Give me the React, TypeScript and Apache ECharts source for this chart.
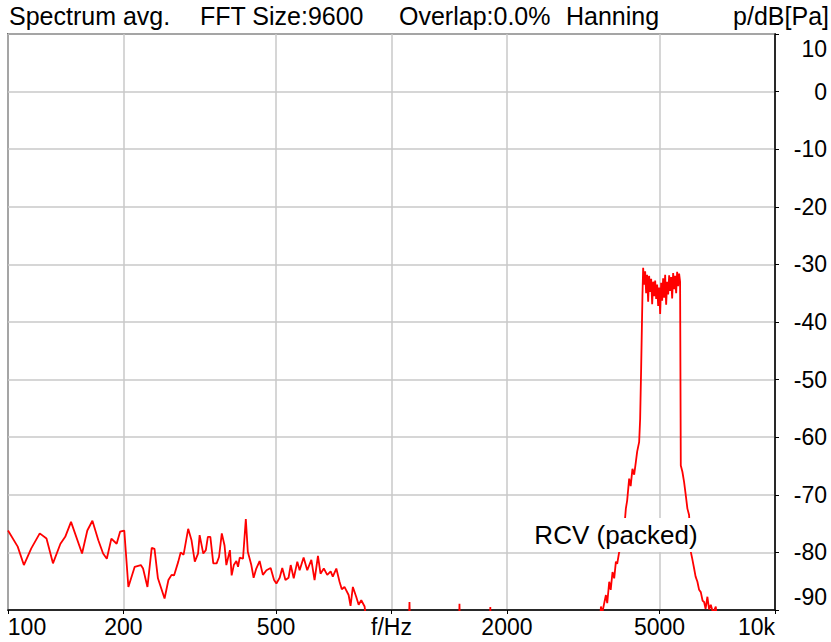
import React, { useEffect, useRef } from "react";
import * as echarts from "echarts";

// ---- data ----
const lowFreqHz = [
  100, 106, 110, 115, 121, 126, 131, 137, 141, 146, 156, 161, 166, 172, 177, 181, 186, 192, 196, 201,
  206, 214, 222, 225, 231, 237, 241, 246, 256, 262, 267, 271, 278, 282, 287, 295, 301, 307, 313, 316,
  323, 328, 332, 337, 343, 350, 355, 361, 367, 371, 379, 383, 388, 394, 398, 402, 410, 417, 422,
  431, 437, 444, 453, 462, 472, 484, 494, 501, 511, 519, 529, 539, 546, 556, 568, 576, 590, 603, 618,
  630, 643, 653, 666, 680, 694, 703, 718, 732, 742, 754, 773, 782, 793, 809, 821, 834, 851,
];
const lowLevelDb = [
  -76.2, -79.0, -82.2, -79.3, -76.7, -77.6, -81.9, -78.5, -77.3, -74.7, -80.2, -76.2, -74.5, -77.9, -80.2, -81.1, -77.6, -78.5, -76.4, -76.2,
  -86.0, -82.5, -82.2, -82.8, -86.0, -79.2, -79.4, -84.5, -88.0, -84.8, -83.9, -84.0, -81.6, -80.0, -80.4, -75.9, -77.9, -81.6, -80.2, -77.0,
  -80.2, -79.6, -77.3, -77.3, -81.9, -81.9, -80.8, -76.7, -78.8, -82.2, -79.6, -84.0, -82.2, -81.5, -82.5, -80.9, -81.1, -74.2, -79.9,
  -82.2, -84.4, -82.8, -81.5, -83.9, -83.1, -82.7, -84.8, -85.4, -84.4, -82.7, -84.8, -84.4, -82.2, -84.5, -81.6, -83.1, -80.9, -83.1, -81.3,
  -84.8, -80.6, -83.7, -82.8, -83.9, -83.3, -84.2, -82.8, -85.1, -86.4, -86.0, -87.4, -89.3, -86.0, -87.7, -89.1, -88.3, -89.4,
];

const gapFreqHz = [870, 1000, 1107, 1114, 1121, 1300, 1497, 1504, 1511, 1650, 1803, 1810, 1817, 2500, 3400, 3490];
const gapLevelDb = [-95, -97, -96, -88.6, -96, -97, -96, -88.9, -96, -97, -96, -89.5, -96, -97, -96, -94];

const bandFreqHz = [
  3516, 3544, 3623, 3652, 3696, 3729, 3770, 3808, 3847, 3877, 3924, 4002, 4043, 4084, 4116, 4166, 4204, 4249, 4293, 4337,
  4371, 4424, 4450, 4477, 4512,
  4531, 4558, 4586, 4613, 4642, 4669, 4697, 4725, 4754, 4783, 4812, 4841, 4870, 4899, 4929, 4958, 4988, 5018, 5048, 5079,
  5109, 5140, 5171, 5202, 5234, 5265, 5297, 5329, 5361, 5393, 5425, 5458, 5491, 5524, 5557, 5590, 5623, 5656,
  5680, 5735, 5794, 5853, 5910, 5970, 6006, 6032, 6080, 6153, 6208, 6276, 6340, 6405, 6475, 6533, 6592, 6664, 6732, 6801,
  6895, 7008, 7063, 7300, 8500, 10000,
];
const bandLevelDb = [
  -89.4, -90.5, -87.4, -88.8, -85.1, -86.5, -83.4, -84.5, -81.6, -82.0, -79.9, -79.6, -76.0, -72.4, -71.0, -67.2, -68.5, -65.5, -66.5, -64.3,
  -62.5, -60.8, -56.8, -48.0, -35.4,
  -30.6, -33.5, -31.2, -35.0, -31.8, -36.5, -32.0, -34.8, -32.5, -36.9, -33.0, -35.5, -32.8, -36.0, -33.5, -37.2, -34.0, -38.6, -33.2, -36.3,
  -32.4, -35.8, -31.8, -37.0, -33.0, -35.2, -31.9, -34.6, -32.2, -35.9, -31.5, -34.3, -32.0, -35.0, -31.3, -33.8, -31.6, -33.0,
  -64.9, -66.0, -67.8, -70.1, -72.4, -73.5, -77.0, -79.9, -81.0, -82.8, -84.2, -85.1, -86.5, -86.9, -88.4, -88.6, -89.8, -87.7, -89.9, -89.1,
  -90.5, -89.4, -92.0, -96.0, -97.0, -97.0,
];

const xTickValues = [100, 200, 500, 1000, 2000, 5000, 10000];
const xTickLabels = ["100", "200", "500", "f/Hz", "2000", "5000", "10k"];
const yMin = -90;
const yMax = 10;
const yStep = 10;

const headerParts = ["Spectrum avg.", "FFT Size:9600", "Overlap:0.0%", "Hanning"];
const headerLeft = [9, 200, 399, 566];
const unitLabel = "p/dB[Pa]";
const annotation = "RCV (packed)";

const FONT = "'Liberation Sans', Arial, Helvetica, sans-serif";

export default function App() {
  const ref = useRef<HTMLDivElement>(null);

  useEffect(() => {
    if (!ref.current) return;
    const chart = echarts.init(ref.current, undefined, { renderer: "svg" });

    const freqs = [...lowFreqHz, ...gapFreqHz, ...bandFreqHz];
    const levels = [...lowLevelDb, ...gapLevelDb, ...bandLevelDb];
    const data = freqs.map((f, i) => [f, levels[i]]);

    const titles: any[] = headerParts.map((t, i) => ({
      text: t,
      left: headerLeft[i],
      top: 3,
      padding: 0,
      textStyle: { fontFamily: FONT, fontSize: 25, fontWeight: "normal", color: "#000" },
    }));
    titles.push({
      text: unitLabel,
      right: 2,
      top: 3,
      padding: 0,
      textStyle: { fontFamily: FONT, fontSize: 25, fontWeight: "normal", color: "#000" },
    });

    const labelFont = { fontFamily: FONT, fontSize: 23, color: "#000" };

    chart.setOption({
      animation: false,
      backgroundColor: "#fff",
      title: titles,
      grid: {
        left: 8,
        right: 56,
        top: 34,
        bottom: 32,
        show: true,
        borderColor: "#000",
        borderWidth: 1.5,
        containLabel: false,
      },
      xAxis: {
        type: "log",
        logBase: 10,
        min: 100,
        max: 10000,
        axisLine: { show: true, onZero: false, lineStyle: { color: "#000", width: 1.5 } },
        axisTick: { show: true, length: 4, lineStyle: { color: "#000" }, customValues: xTickValues },
        splitLine: { show: true, lineStyle: { color: "#c8c8c8", width: 1.5 } },
        minorTick: { show: false },
        minorSplitLine: { show: false },
        axisLabel: {
          ...labelFont,
          margin: 5,
          customValues: xTickValues,
          formatter: (v: number) => {
            const i = xTickValues.findIndex((t) => Math.abs(t - v) / t < 1e-6);
            const s = i >= 0 ? xTickLabels[i] : String(v);
            if (i === 0) return "{l|" + s + "}";
            if (i === xTickValues.length - 1) return "{r|" + s + "}";
            return s;
          },
          rich: {
            l: { ...labelFont, padding: [0, 0, 0, 38] },
            r: { ...labelFont, padding: [0, 37, 0, 0] },
          },
        },
      },
      yAxis: {
        type: "value",
        position: "right",
        min: yMin,
        max: yMax,
        interval: yStep,
        axisLine: { show: true, onZero: false, lineStyle: { color: "#000", width: 1.5 } },
        axisTick: { show: true, inside: false, length: 4, lineStyle: { color: "#000" } },
        splitLine: { show: true, lineStyle: { color: "#c8c8c8", width: 1.5 } },
        axisLabel: {
          ...labelFont,
          margin: 52,
          align: "right",
          formatter: (v: number) => {
            if (v === yMax) return "{t|" + v + "}";
            if (v === yMin) return "{b|" + v + "}";
            return String(v);
          },
          rich: {
            t: { ...labelFont, padding: [30, 0, 0, 0] },
            b: { ...labelFont, padding: [0, 0, 27, 0] },
          },
        },
      },
      series: [
        {
          type: "line",
          data,
          showSymbol: false,
          symbol: "none",
          clip: true,
          lineStyle: { color: "#ff0000", width: 1.8 },
          itemStyle: { color: "#ff0000" },
          z: 3,
        },
      ],
      graphic: [
        {
          type: "text",
          x: 616,
          y: 535,
          z: 100,
          style: {
            text: annotation,
            fontFamily: FONT,
            fontSize: 26,
            fill: "#000",
            align: "center",
            verticalAlign: "middle",
            backgroundColor: "#fff",
            padding: [4, 3, 4, 3],
          },
        },
      ],
    });

    return () => chart.dispose();
  }, []);

  return (
    <div
      ref={ref}
      style={{ position: "fixed", left: 0, top: 0, width: 831, height: 642, background: "#fff" }}
    />
  );
}
